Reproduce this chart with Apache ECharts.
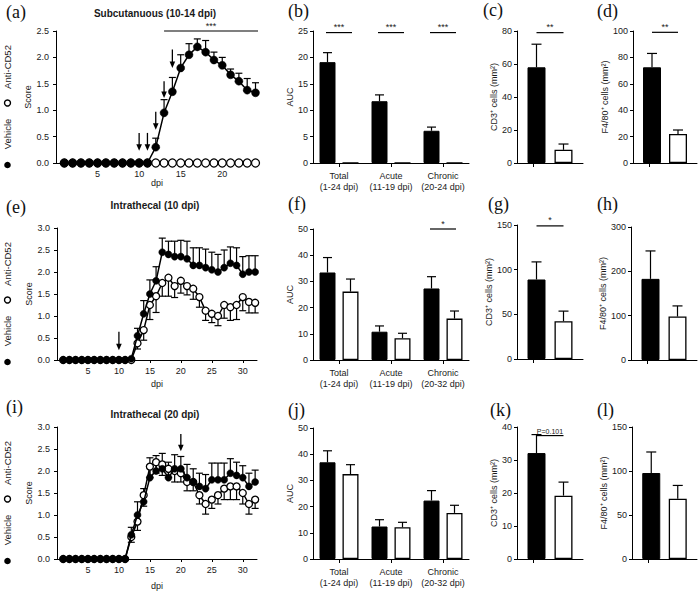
<!DOCTYPE html>
<html>
<head>
<meta charset="utf-8">
<title>Anti-CD52 panels</title>
<script src="https://cdn.jsdelivr.net/npm/echarts@6.0.0/dist/echarts.min.js"></script>
<style>
html,body{margin:0;padding:0;background:#ffffff;}
#chart{width:700px;height:592px;}
</style>
</head>
<body>
<div id="chart"></div>
<script>
// ===================== DATA =====================
// (a) Subcutanuous (10-14 dpi)
const daysA = [1,2,3,4,5,6,7,8,9,10,11,12,13,14,15,16,17,18,19,20,21,22,23,24];
const vehicleA = [0,0,0,0,0,0,0,0,0,0,0,0.30,0.95,1.35,1.80,2.05,2.20,2.10,1.95,1.85,1.67,1.55,1.38,1.33];
const vehicleAUpper = [null,null,null,null,null,null,null,null,null,null,null,0.47,1.20,1.62,2.05,2.26,2.35,2.32,2.10,2.00,1.78,1.70,1.60,1.52];
const antiA = [0,0,0,0,0,0,0,0,0,0,0,0,0,0,0,0,0,0,0,0,0,0,0,0];
const antiALower = [null,null,null,null,null,null,null,null,null,null,null,null,null,null,null,null,null,null,null,null,null,null,null,null];
const arrowDaysA = [10,11,12,13,14];
const arrowTopA = [0.57,0.57,0.97,1.55,2.15];
const arrowTipA = [0.23,0.23,0.63,1.23,1.80];
const sigFromA = [13], sigToA = [24.3], sigYA = [2.5], sigTextA = ['***'];

// (e) Intrathecal (10 dpi)
const daysE = [1,2,3,4,5,6,7,8,9,10,11,12,13,14,15,16,17,18,19,20,21,22,23,24,25,26,27,28,29,30,31,32];
const vehicleE = [0,0,0,0,0,0,0,0,0,0,0,0.03,0.55,1.05,1.50,1.80,2.45,2.40,2.35,2.35,2.30,2.15,2.15,2.10,2.05,2.00,2.10,2.20,2.15,1.95,2.00,2.00];
const vehicleEUpper = [null,null,null,null,null,null,null,null,null,null,null,null,0.72,1.35,1.82,2.12,2.77,2.70,2.70,2.72,2.70,2.55,2.55,2.52,2.45,2.40,2.50,2.57,2.55,2.35,2.37,2.37];
const antiE = [0,0,0,0,0,0,0,0,0,0,0,0,0.38,0.68,1.25,1.45,1.75,1.87,1.68,1.80,1.68,1.62,1.43,1.12,1.05,1.00,1.25,1.20,1.25,1.43,1.32,1.30];
const antiELower = [null,null,null,null,null,null,null,null,null,null,null,null,0.25,0.45,0.92,1.08,1.45,1.45,1.42,1.52,1.48,1.38,1.20,0.90,0.85,0.78,0.95,0.90,0.92,1.12,1.07,1.07];
const arrowDaysE = [10];
const arrowTopE = [0.64];
const arrowTipE = [0.22];

// (i) Intrathecal (20 dpi)
const daysI = [1,2,3,4,5,6,7,8,9,10,11,12,13,14,15,16,17,18,19,20,21,22,23,24,25,26,27,28,29,30,31,32];
const vehicleI = [0,0,0,0,0,0,0,0,0,0,0,0.55,1.00,1.30,1.85,2.00,2.05,1.85,2.05,2.05,1.85,1.75,1.65,1.60,1.80,1.80,1.80,1.95,1.90,1.85,1.65,1.75];
const vehicleIUpper = [null,null,null,null,null,null,null,null,null,null,null,0.72,1.30,1.60,2.30,2.35,2.40,2.20,2.37,2.33,2.15,2.05,1.95,1.92,2.18,2.18,2.18,2.28,2.20,2.12,1.95,2.02];
const antiI = [0,0,0,0,0,0,0,0,0,0,0,0.50,0.85,1.45,2.10,2.20,2.15,2.05,2.00,1.95,1.75,1.75,1.45,1.25,1.35,1.45,1.60,1.65,1.65,1.50,1.25,1.35];
const antiILower = [null,null,null,null,null,null,null,null,null,null,null,0.38,0.65,1.20,1.85,1.95,1.90,1.85,1.75,1.75,1.55,1.55,1.25,1.02,1.15,1.25,1.35,1.35,1.35,1.25,1.02,1.15];
const arrowDaysI = [20];
const arrowTopI = [2.84];
const arrowTipI = [2.45];

const dpiTicksA = [5,10,15,20];
const dpiTicksEI = [5,10,15,20,25,30];

// AUC panels (b), (f), (j)
const aucCatsB = ['Total\n(1-24 dpi)','Acute\n(11-19 dpi)','Chronic\n(20-24 dpi)'];
const aucCatsFJ = ['Total\n(1-24 dpi)','Acute\n(11-19 dpi)','Chronic\n(20-32 dpi)'];
const aucVehicleB = [19.1, 11.7, 6.1];
const aucVehicleBUpper = [20.9, 12.9, 6.8];
const aucAntiB = [0, 0, 0];
const aucAntiBUpper = [null, null, null];
const sigCatsB = [0, 1, 2], sigYB = [24.7, 24.7, 24.7], sigTextB = ['***','***','***'];

const aucVehicleF = [33.4, 10.8, 27.3];
const aucVehicleFUpper = [39.1, 13.0, 31.8];
const aucAntiF = [26.1, 8.3, 15.8];
const aucAntiFUpper = [30.9, 10.2, 18.7];
const sigCatsF = [2], sigYF = [50], sigTextF = ['*'];

const aucVehicleJ = [36.9, 12.4, 22.3];
const aucVehicleJUpper = [41.3, 15.0, 26.1];
const aucAntiJ = [32.4, 12.1, 17.6];
const aucAntiJUpper = [36.0, 14.0, 20.5];

// Cell count panels: [Vehicle, Anti-CD52]
const groups = ['Vehicle', 'Anti-CD52'];
const cd3C = [58, 8], cd3CUpper = [72, 11.5], sigYC = [79], sigTextC = ['**'];
const f480D = [72.5, 22], f480DUpper = [83, 25], sigYD = [99], sigTextD = ['**'];
const cd3G = [89, 42.3], cd3GUpper = [108.7, 53.6], sigYG = [149], sigTextG = ['*'];
const f480H = [183, 98], f480HUpper = [246, 122];
const cd3K = [32.1, 19.2], cd3KUpper = [37.7, 23.3], sigYK = [37.4], sigTextK = ['P=0.101'];
const f480L = [97.7, 68.5], f480LUpper = [121.6, 83.6];

// ===================== BUILD =====================
const FONT = 'Liberation Sans, Arial, sans-serif';
const SERIF = 'Liberation Serif, Times New Roman, serif';
const TXT = '#1a1a1a';
const grids = [], xAxes = [], yAxes = [], series = [], graphics = [];

const axLine = {show: true, onZero: false, lineStyle: {color: '#000', width: 1}};
const axTick = {show: true, length: 3, lineStyle: {color: '#000', width: 1}};
const lbl = {color: TXT, fontSize: 9, fontFamily: FONT};

function addGrid(box, xa, ya) {
  grids.push({left: box[0], top: box[1], width: box[2], height: box[3], containLabel: false});
  const gi = grids.length - 1;
  xAxes.push(Object.assign({gridIndex: gi, splitLine: {show: false}}, xa));
  yAxes.push(Object.assign({gridIndex: gi, splitLine: {show: false}}, ya));
  return gi;
}

function errRender(offsetFn, cap) {
  return function (params, api) {
    const x = api.value(0), y0 = api.value(1), y1 = api.value(2);
    const p0 = api.coord([x, y0]), p1 = api.coord([x, y1]);
    const px = p0[0] + offsetFn(x);
    return {type: 'group', children: [
      {type: 'line', shape: {x1: px, y1: p0[1], x2: px, y2: p1[1]}, style: {stroke: '#000', lineWidth: 1.2}},
      {type: 'line', shape: {x1: px - cap / 2, y1: p1[1], x2: px + cap / 2, y2: p1[1]}, style: {stroke: '#000', lineWidth: 1.2}}
    ]};
  };
}

function sigRender(offA, offB, texts, fs) {
  return function (params, api) {
    const a = api.coord([api.value(0), api.value(2)]);
    const b = api.coord([api.value(1), api.value(2)]);
    const x1 = a[0] + offA, x2 = b[0] + offB;
    return {type: 'group', children: [
      {type: 'line', shape: {x1: x1, y1: a[1], x2: x2, y2: a[1]}, style: {stroke: '#000', lineWidth: 1.2}},
      {type: 'text', style: {text: texts[params.dataIndex], x: (x1 + x2) / 2, y: a[1] - 1,
        textAlign: 'center', textVerticalAlign: 'bottom', fontSize: fs, fontFamily: FONT, fill: TXT}}
    ]};
  };
}

function arrowRender(params, api) {
  const t = api.coord([api.value(0), api.value(1)]);
  const b = api.coord([api.value(0), api.value(2)]);
  return {type: 'group', children: [
    {type: 'line', shape: {x1: t[0], y1: t[1], x2: b[0], y2: b[1] - 5}, style: {stroke: '#000', lineWidth: 1.3}},
    {type: 'polygon', shape: {points: [[b[0] - 2.8, b[1] - 6.5], [b[0] + 2.8, b[1] - 6.5], [b[0], b[1]]]}, style: {fill: '#000'}}
  ]};
}

function linePanel(cfg) {
  const gi = addGrid(cfg.box,
    {type: 'value', min: 0, max: cfg.xMax, name: 'dpi', nameLocation: 'middle', nameGap: cfg.nameGapX,
     nameTextStyle: lbl, axisLine: axLine,
     axisTick: Object.assign({}, axTick, {customValues: cfg.xTicks}),
     axisLabel: Object.assign({}, lbl, {customValues: cfg.xTicks, margin: 6})},
    {type: 'value', min: 0, max: cfg.yMax, interval: 0.5, name: 'Score', nameLocation: 'middle', nameGap: 21,
     nameTextStyle: lbl, axisLine: axLine, axisTick: axTick,
     axisLabel: Object.assign({}, lbl, {margin: 7, formatter: v => v.toFixed(1)})});
  const vehErr = [], antiErr = [];
  cfg.days.forEach((d, i) => {
    if (cfg.vehUp[i] != null) vehErr.push([d, cfg.veh[i], cfg.vehUp[i]]);
    if (cfg.antiLo[i] != null) antiErr.push([d, cfg.anti[i], cfg.antiLo[i]]);
  });
  series.push({type: 'custom', name: 'Anti-CD52 SEM', xAxisIndex: gi, yAxisIndex: gi, z: 2,
    encode: {x: 0, y: [1, 2]}, data: antiErr, renderItem: errRender(() => 0, 7), silent: true});
  series.push({type: 'custom', name: 'Vehicle SEM', xAxisIndex: gi, yAxisIndex: gi, z: 2,
    encode: {x: 0, y: [1, 2]}, data: vehErr, renderItem: errRender(() => 0, 7), silent: true});
  series.push({type: 'line', name: 'Anti-CD52', xAxisIndex: gi, yAxisIndex: gi, z: 3,
    data: cfg.days.map((d, i) => [d, cfg.anti[i]]), symbol: 'circle', symbolSize: cfg.sym,
    itemStyle: {color: '#fff', borderColor: '#000', borderWidth: 1.3}, lineStyle: {color: '#000', width: 1.5},
    animation: false});
  series.push({type: 'line', name: 'Vehicle', xAxisIndex: gi, yAxisIndex: gi, z: 4,
    data: cfg.days.map((d, i) => [d, cfg.veh[i]]), symbol: 'circle', symbolSize: cfg.sym,
    itemStyle: {color: '#000', borderColor: '#000', borderWidth: 0.5}, lineStyle: {color: '#000', width: 1.5},
    animation: false});
  series.push({type: 'custom', name: 'Injections', xAxisIndex: gi, yAxisIndex: gi, z: 5,
    encode: {x: 0, y: [1, 2]}, data: cfg.arrowDays.map((d, i) => [d, cfg.arrowTop[i], cfg.arrowTip[i]]),
    renderItem: arrowRender, silent: true});
  if (cfg.sigFrom) {
    series.push({type: 'custom', name: 'Significance', xAxisIndex: gi, yAxisIndex: gi, z: 5,
      encode: {x: [0, 1], y: 2}, data: cfg.sigFrom.map((f, i) => [f, cfg.sigTo[i], cfg.sigY[i]]),
      renderItem: sigRender(0, 0, cfg.sigText, 9), silent: true});
  }
  // legend (rotated) on the left
  const y0 = cfg.box[1] + cfg.box[3];
  graphics.push({type: 'circle', shape: {cx: 7.5, cy: y0 + 2, r: 3.3}, style: {fill: '#000'}});
  graphics.push({type: 'text', x: 7.5, y: y0 - 29, rotation: Math.PI / 2,
    style: {text: 'Vehicle', textAlign: 'center', textVerticalAlign: 'middle', fontSize: 9.5, fontFamily: FONT, fill: TXT}});
  graphics.push({type: 'circle', shape: {cx: 7.5, cy: y0 - 60, r: 3}, style: {fill: '#fff', stroke: '#000', lineWidth: 1.4}});
  graphics.push({type: 'text', x: 7.5, y: y0 - 96, rotation: Math.PI / 2,
    style: {text: 'Anti-CD52', textAlign: 'center', textVerticalAlign: 'middle', fontSize: 9.5, fontFamily: FONT, fill: TXT}});
  // title
  graphics.push({type: 'text', style: {text: cfg.title, x: 155, y: cfg.titleY, textAlign: 'center', textVerticalAlign: 'middle',
    fontSize: 10, fontWeight: 'bold', fontFamily: FONT, fill: TXT}});
}

function aucPanel(cfg) {
  const gi = addGrid(cfg.box,
    {type: 'category', data: cfg.cats, axisLine: axLine,
     axisTick: Object.assign({}, axTick, {alignWithLabel: true, length: 4}),
     axisLabel: Object.assign({}, lbl, {margin: 8, lineHeight: 10.5, interval: 0})},
    {type: 'value', min: 0, max: cfg.yMax, interval: cfg.yInt, name: 'AUC', nameLocation: 'middle', nameGap: 18,
     nameTextStyle: lbl, axisLine: axLine, axisTick: axTick, axisLabel: Object.assign({}, lbl, {margin: 5})});
  const bw = 16, gap = 7, off = (bw + gap) / 2;
  series.push({type: 'bar', name: 'Vehicle', xAxisIndex: gi, yAxisIndex: gi, data: cfg.veh, barWidth: bw,
    barGap: (gap / bw * 100) + '%', itemStyle: {color: '#000', borderColor: '#000', borderWidth: 1}, z: 2, animation: false});
  series.push({type: 'bar', name: 'Anti-CD52', xAxisIndex: gi, yAxisIndex: gi, data: cfg.anti, barWidth: bw,
    barGap: (gap / bw * 100) + '%', itemStyle: {color: '#fff', borderColor: '#000', borderWidth: 1.3}, z: 2, animation: false});
  const vErr = [], aErr = [];
  cfg.veh.forEach((v, i) => { if (cfg.vehUp[i] != null) vErr.push([i, v, cfg.vehUp[i]]); });
  cfg.anti.forEach((v, i) => { if (cfg.antiUp[i] != null) aErr.push([i, v, cfg.antiUp[i]]); });
  series.push({type: 'custom', name: 'Vehicle SEM', xAxisIndex: gi, yAxisIndex: gi, z: 3, encode: {x: 0, y: [1, 2]},
    data: vErr, renderItem: errRender(() => -off, 9), silent: true});
  series.push({type: 'custom', name: 'Anti-CD52 SEM', xAxisIndex: gi, yAxisIndex: gi, z: 3, encode: {x: 0, y: [1, 2]},
    data: aErr, renderItem: errRender(() => off, 9), silent: true});
  if (cfg.sigCats) {
    series.push({type: 'custom', name: 'Significance', xAxisIndex: gi, yAxisIndex: gi, z: 5, encode: {x: [0, 1], y: 2},
      data: cfg.sigCats.map((c, i) => [c, c, cfg.sigY[i]]), renderItem: sigRender(-off - 1.5, off + 1.5, cfg.sigText, 9), silent: true});
  }
}

function cellPanel(cfg) {
  const gi = addGrid(cfg.box,
    {type: 'category', data: groups, axisLine: axLine,
     axisTick: Object.assign({}, axTick, {alignWithLabel: true, length: 4}), axisLabel: {show: false}},
    {type: 'value', min: 0, max: cfg.yMax, interval: cfg.yInt, name: cfg.yName, nameLocation: 'middle', nameGap: cfg.nameGap,
     nameTextStyle: lbl, axisLine: axLine, axisTick: axTick, axisLabel: Object.assign({}, lbl, {margin: 5})});
  // two bars pulled toward the middle (white series first so that offsets point inward)
  const bw = 18, gapPx = -12, off = (bw + gapPx) / 2;
  const antiData = cfg.vals.map((v, i) => i === 1 ? v : '-');
  const vehData = cfg.vals.map((v, i) => i === 0 ? v : '-');
  series.push({type: 'bar', name: 'Anti-CD52', xAxisIndex: gi, yAxisIndex: gi, data: antiData, barWidth: bw,
    barGap: (gapPx / bw * 100) + '%', itemStyle: {color: '#fff', borderColor: '#000', borderWidth: 1.3}, z: 2, animation: false});
  series.push({type: 'bar', name: 'Vehicle', xAxisIndex: gi, yAxisIndex: gi, data: vehData, barWidth: bw,
    barGap: (gapPx / bw * 100) + '%', itemStyle: {color: '#000', borderColor: '#000', borderWidth: 1}, z: 2, animation: false});
  const shift = x => (x === 0 ? off : -off);
  series.push({type: 'custom', name: 'SEM', xAxisIndex: gi, yAxisIndex: gi, z: 3, encode: {x: 0, y: [1, 2]},
    data: cfg.vals.map((v, i) => [i, v, cfg.up[i]]), renderItem: errRender(shift, 10), silent: true});
  if (cfg.sigY) {
    series.push({type: 'custom', name: 'Significance', xAxisIndex: gi, yAxisIndex: gi, z: 5, encode: {x: [0, 1], y: 2},
      data: cfg.sigY.map(y => [0, 1, y]), renderItem: sigRender(off, -off, cfg.sigText, cfg.sigFs || 9), silent: true});
  }
}

// ---- Row 1 ----
linePanel({box: [56, 31, 202, 132], xMax: 24.3, yMax: 2.5, xTicks: dpiTicksA, nameGapX: 14, sym: 8,
  days: daysA, veh: vehicleA, vehUp: vehicleAUpper, anti: antiA, antiLo: antiALower,
  arrowDays: arrowDaysA, arrowTop: arrowTopA, arrowTip: arrowTipA,
  sigFrom: sigFromA, sigTo: sigToA, sigY: sigYA, sigText: sigTextA,
  title: 'Subcutanuous (10-14 dpi)', titleY: 13});
aucPanel({box: [313, 31, 156, 132], cats: aucCatsB, yMax: 25, yInt: 5,
  veh: aucVehicleB, vehUp: aucVehicleBUpper, anti: aucAntiB, antiUp: aucAntiBUpper,
  sigCats: sigCatsB, sigY: sigYB, sigText: sigTextB});
cellPanel({box: [517, 31, 66, 132], yMax: 80, yInt: 20, yName: 'CD3\u207A cells (mm\u00B2)', nameGap: 14,
  vals: cd3C, up: cd3CUpper, sigY: sigYC, sigText: sigTextC});
cellPanel({box: [633, 31, 64, 132], yMax: 100, yInt: 20, yName: 'F4/80\u207A cells (mm\u00B2)', nameGap: 14,
  vals: f480D, up: f480DUpper, sigY: sigYD, sigText: sigTextD});

// ---- Row 2 ----
linePanel({box: [57, 228, 200, 132], xMax: 32.3, yMax: 3.0, xTicks: dpiTicksEI, nameGapX: 19, sym: 7,
  days: daysE, veh: vehicleE, vehUp: vehicleEUpper, anti: antiE, antiLo: antiELower,
  arrowDays: arrowDaysE, arrowTop: arrowTopE, arrowTip: arrowTipE,
  title: 'Intrathecal (10 dpi)', titleY: 205});
aucPanel({box: [313, 229, 156, 131], cats: aucCatsFJ, yMax: 50, yInt: 10,
  veh: aucVehicleF, vehUp: aucVehicleFUpper, anti: aucAntiF, antiUp: aucAntiFUpper,
  sigCats: sigCatsF, sigY: sigYF, sigText: sigTextF});
cellPanel({box: [517, 225, 66, 134], yMax: 150, yInt: 50, yName: 'CD3\u207A cells (mm\u00B2)', nameGap: 14,
  vals: cd3G, up: cd3GUpper, sigY: sigYG, sigText: sigTextG});
cellPanel({box: [631, 227, 66, 133], yMax: 300, yInt: 100, yName: 'F4/80\u207A cells (mm\u00B2)', nameGap: 14,
  vals: f480H, up: f480HUpper});

// ---- Row 3 ----
linePanel({box: [57, 427, 200, 132], xMax: 32.3, yMax: 3.0, xTicks: dpiTicksEI, nameGapX: 22, sym: 7,
  days: daysI, veh: vehicleI, vehUp: vehicleIUpper, anti: antiI, antiLo: antiILower,
  arrowDays: arrowDaysI, arrowTop: arrowTopI, arrowTip: arrowTipI,
  title: 'Intrathecal (20 dpi)', titleY: 414});
aucPanel({box: [313, 428, 156, 131], cats: aucCatsFJ, yMax: 50, yInt: 10,
  veh: aucVehicleJ, vehUp: aucVehicleJUpper, anti: aucAntiJ, antiUp: aucAntiJUpper});
cellPanel({box: [517, 427, 66, 132], yMax: 40, yInt: 10, yName: 'CD3\u207A cells (mm\u00B2)', nameGap: 14,
  vals: cd3K, up: cd3KUpper, sigY: sigYK, sigText: sigTextK, sigFs: 7});
cellPanel({box: [632, 427, 65, 132], yMax: 150, yInt: 50, yName: 'F4/80\u207A cells (mm\u00B2)', nameGap: 14,
  vals: f480L, up: f480LUpper});

// panel letters
const letters = [['(a)', 6, 12], ['(b)', 288, 11], ['(c)', 483, 10], ['(d)', 597, 11],
                 ['(e)', 6, 207], ['(f)', 288, 204], ['(g)', 488, 204], ['(h)', 597, 204],
                 ['(i)', 6, 407], ['(j)', 288, 410], ['(k)', 490, 410], ['(l)', 597, 410]];
letters.forEach(l => graphics.push({type: 'text', style: {text: l[0], x: l[1], y: l[2], textAlign: 'left',
  textVerticalAlign: 'middle', fontSize: 18, fontFamily: SERIF, fill: '#111'}}));

const chart = echarts.init(document.getElementById('chart'), null, {renderer: 'svg', width: 700, height: 592});
chart.setOption({
  backgroundColor: '#ffffff',
  animation: false,
  textStyle: {fontFamily: FONT},
  grid: grids,
  xAxis: xAxes,
  yAxis: yAxes,
  series: series,
  graphic: graphics
});
</script>
</body>
</html>
